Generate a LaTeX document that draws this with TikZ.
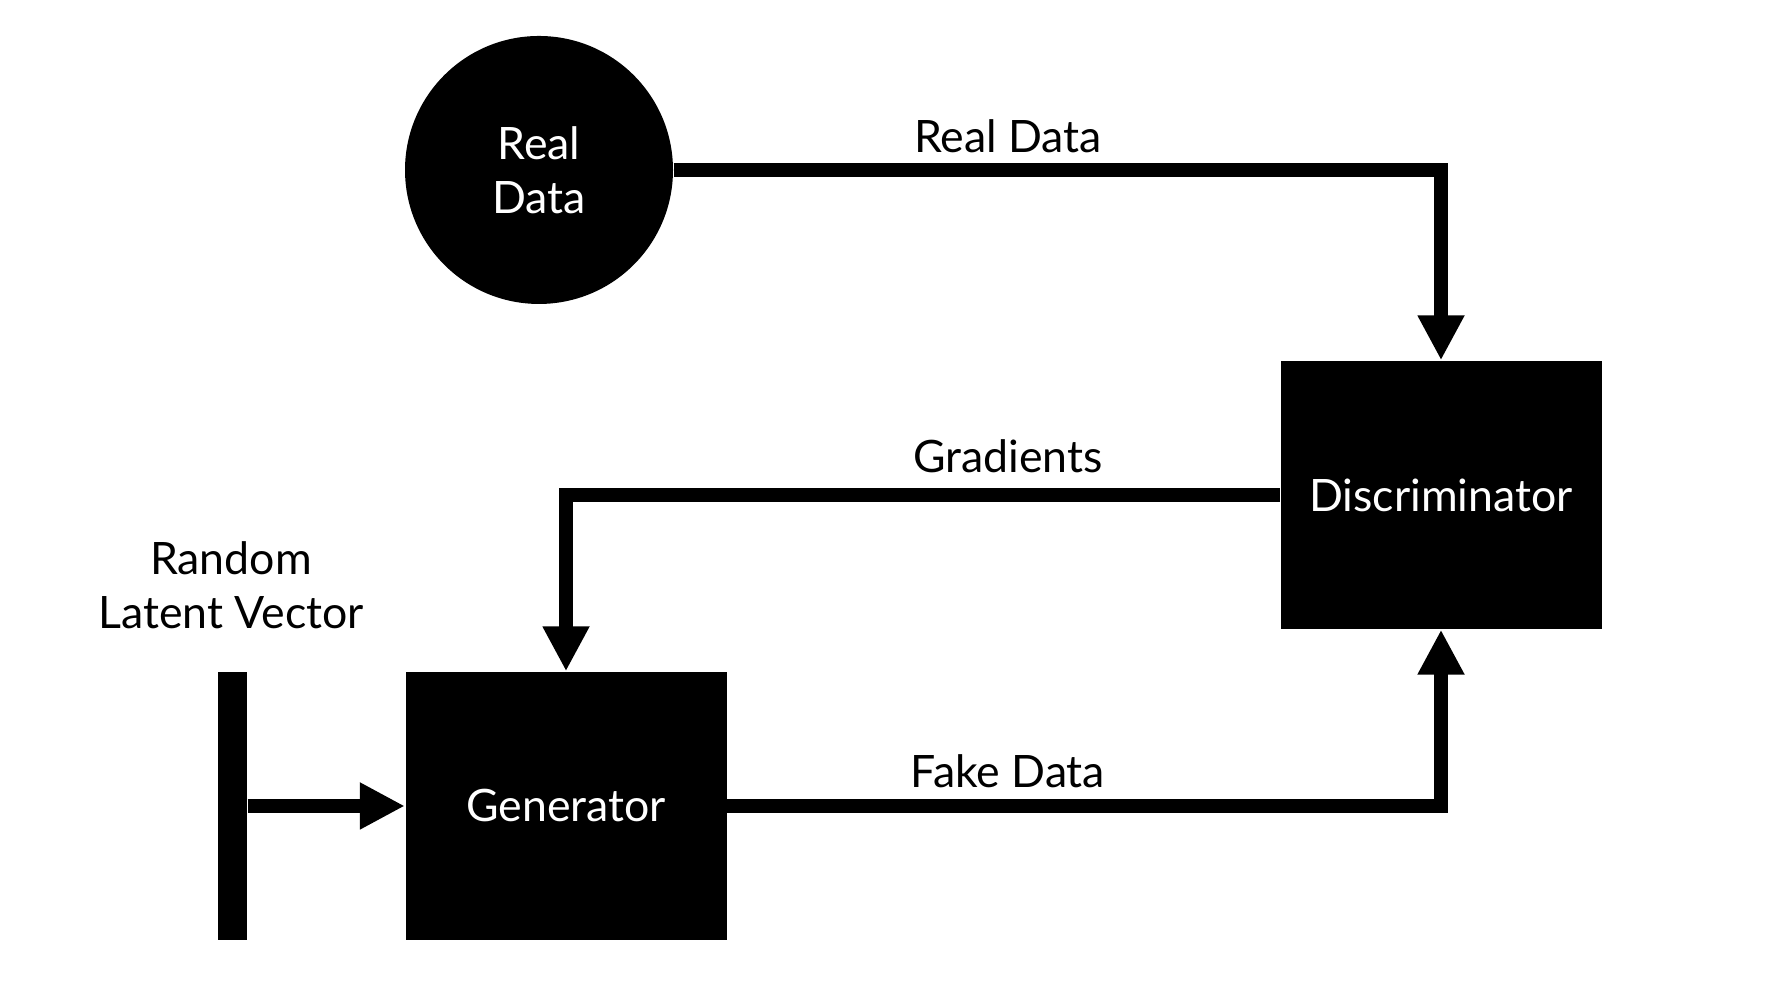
\documentclass[tikz,border=0pt]{standalone}
\usepackage{fontspec}
\setmainfont{Lato}
\usetikzlibrary{arrows.meta}

\begin{document}
\begin{tikzpicture}[
    every node/.style={font=\fontsize{12.7}{15.3}\selectfont},
    block/.style={fill=black,text=white,minimum width=3.21cm,minimum height=2.68cm,inner sep=0pt},
    source/.style={circle,fill=black,text=white,minimum size=2.68cm,inner sep=0pt,align=center},
    noisebar/.style={fill=black,minimum width=0.29cm,minimum height=2.68cm,inner sep=0pt},
    flow/.style={line width=4.1pt,-{Triangle[width=12.5pt,length=12.8pt]}},
    flowlabel/.style={anchor=base,inner sep=0pt}
   ]
  \useasboundingbox (0,0) rectangle (17.78,10);
  \node[source] (real) at (5.39,8.30) {Real\\Data};
  \node[block] (disc) at (14.41,5.05) {Discriminator};
  \node[block] (gen) at (5.66,1.94) {Generator};
  \node[noisebar] (latent) at (2.325,1.94) {};
  \node[align=center,anchor=south,inner sep=0pt] (latentlbl) at (2.31,3.705) {Random\\Latent Vector};

  \node[flowlabel] (reallbl) at (10.08,8.47) {Real Data};
  \node[flowlabel] (gradlbl) at (10.08,5.27) {Gradients};
  \node[flowlabel] (fakelbl) at (10.08,2.12) {Fake Data};

  \draw[flow] (real.east) -| (disc.north);
  \draw[flow] (disc.west) -| (gen.north);
  \draw[flow] (gen.east) -| (disc.south);
  \draw[flow] (latent.east) -- (gen.west);
\end{tikzpicture}
\end{document}
